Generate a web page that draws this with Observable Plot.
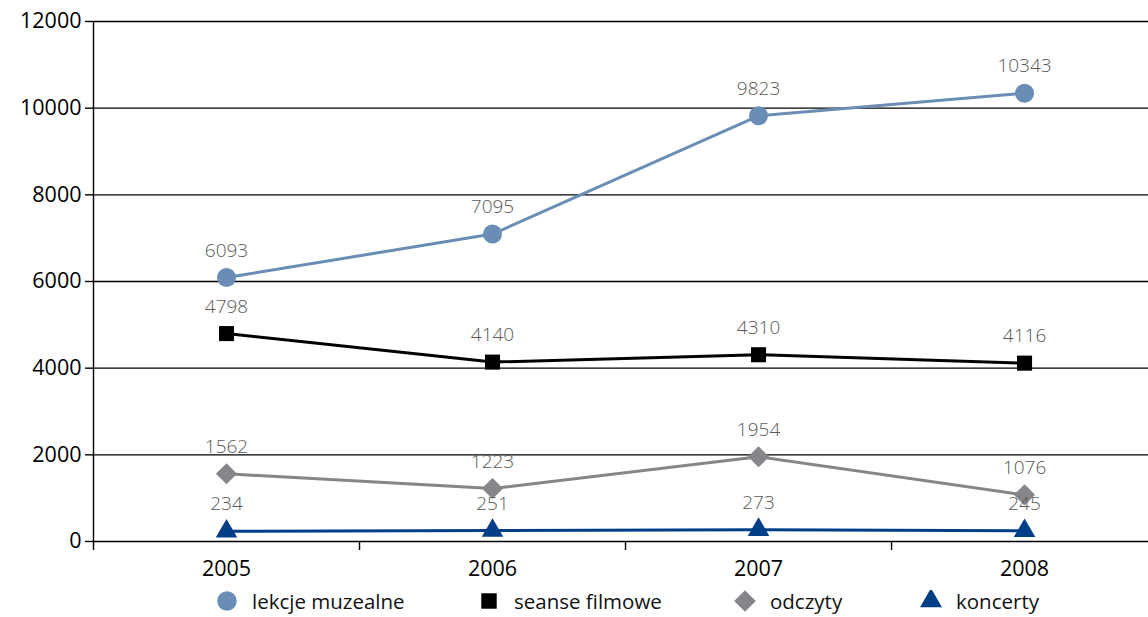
<!DOCTYPE html>
<html><head><meta charset="utf-8">
<script src="https://cdn.jsdelivr.net/npm/d3@7"></script>
<script src="https://cdn.jsdelivr.net/npm/@observablehq/plot@0.6"></script>
<style>
body{margin:0;background:#fff;font-family:"Open Sans","Noto Sans",sans-serif;overflow:hidden;}
#chart svg{display:block;}
#legend{position:relative;height:29px;width:1148px;font-size:20.5px;color:#111;}
#legend .item{position:absolute;top:0;display:flex;align-items:center;height:26px;line-height:26px;}
#legend svg{margin-right:14px;}
</style>
</head><body>
<div id="chart"></div>
<div id="legend"></div>
<script>
const years = [2005, 2006, 2007, 2008];
const lekcje = [6093, 7095, 9823, 10343];
const seanse = [4798, 4140, 4310, 4116];
const odczyty = [1562, 1223, 1954, 1076];
const koncerty = [234, 251, 273, 245];
const seriesNames = ["lekcje muzealne", "seanse filmowe", "odczyty", "koncerty"];
const seriesValues = [lekcje, seanse, odczyty, koncerty];
const seriesColors = ["#6a8db5", "#000000", "#86858a", "#003f87"];
const seriesSymbols = ["circle", "square", "diamond2", "triangle"];
const seriesR = [9.5, 8.5, 9.5, 8];
const yTicks = [0, 2000, 4000, 6000, 8000, 10000, 12000];

const rows = [];
seriesNames.forEach((s, i) => years.forEach((y, j) => rows.push({series: s, year: y, value: seriesValues[i][j]})));

const marks = [
  Plot.ruleY(yTicks, {stroke: "#000", strokeWidth: 1.4}),
  Plot.axisY({ticks: yTicks, tickSize: 8, tickPadding: 4, fontSize: 21.5, tickFormat: d => String(d), label: null, strokeWidth: 1.4}),
  Plot.ruleX([2004.5], {y1: 12000, y2: 0, insetBottom: -9, stroke: "#000", strokeWidth: 1.4}),
  Plot.axisX({ticks: [2005.5, 2006.5, 2007.5], tickSize: 9, tickFormat: () => "", label: null, strokeWidth: 1.4}),
  Plot.axisX({ticks: years, tickSize: 0, tickPadding: 19, fontSize: 21.5, tickFormat: d => String(d), label: null})
];
seriesNames.forEach((s, i) => {
  const data = rows.filter(r => r.series === s);
  marks.push(Plot.line(data, {x: "year", y: "value", stroke: seriesColors[i], strokeWidth: 3}));
  marks.push(Plot.dot(data, {x: "year", y: "value", fill: seriesColors[i], symbol: seriesSymbols[i], r: seriesR[i]}));
  marks.push(Plot.text(data, {x: "year", y: "value", text: d => String(d.value), dy: -27, fill: "#595959", fontSize: 19, fontWeight: 300}));
});

const chart = Plot.plot({
  width: 1148, height: 588,
  marginTop: 21, marginLeft: 93, marginRight: 0, marginBottom: 47,
  style: {fontFamily: "'Open Sans', 'Noto Sans', sans-serif", color: "#000", background: "#fff"},
  x: {type: "linear", domain: [2004.5, 2008.466], axis: null},
  y: {domain: [0, 12000], axis: null},
  marks
});
document.getElementById("chart").appendChild(chart);

const symbolMap = {circle: d3.symbolCircle, square: d3.symbolSquare, diamond2: d3.symbolDiamond2, triangle: d3.symbolTriangle};
const legendLeft = [216, 478, 734, 920];
const lg = d3.select("#legend");
seriesNames.forEach((s, i) => {
  const it = lg.append("div").attr("class", "item").style("left", legendLeft[i] + "px");
  const sv = it.append("svg").attr("width", 22).attr("height", 22);
  sv.append("path").attr("transform", "translate(11,11)")
    .attr("d", d3.symbol(symbolMap[seriesSymbols[i]], Math.PI * seriesR[i] * seriesR[i] * 1.05)())
    .attr("fill", seriesColors[i]);
  it.append("span").text(s);
});
</script>
</body></html>
